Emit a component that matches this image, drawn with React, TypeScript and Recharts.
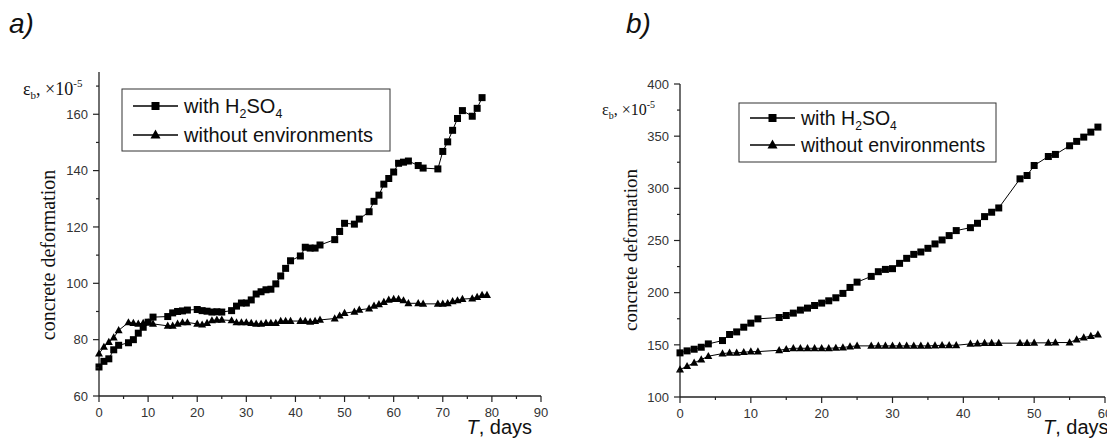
import React from 'react';
import { LineChart, Line, XAxis, YAxis } from 'recharts';

// Panel a) – days and deformation values (x10^-5)
const daysA = [0, 1, 2, 3, 4, 6, 7, 8, 9, 10, 11, 14, 15, 16, 17, 18, 20, 21, 22, 23, 24, 25, 27, 28, 29, 30, 31, 32, 33, 34, 35, 36, 37, 38, 39, 41, 42, 43, 44, 45, 48, 49, 50, 52, 53, 55, 56, 57, 58, 59, 60, 61, 62, 63, 65, 66, 69, 70, 71, 72, 73, 74, 76, 77, 78, 79];
const acidA = [70.3, 72.3, 73.2, 76.4, 78, 78.9, 80, 82.3, 84.4, 86.2, 88, 88.2, 89.5, 90, 90.2, 90.5, 90.7, 90.3, 90.1, 89.8, 89.9, 89.8, 90.3, 91.9, 93, 93, 94.1, 96.2, 97, 97.7, 97.9, 99.8, 102.6, 105.3, 108, 109.7, 112.8, 112.5, 112.5, 113.6, 115.5, 118.4, 121.3, 121, 122.8, 125.4, 129.1, 131.3, 135.2, 137.2, 139.5, 142.6, 143, 143.4, 141.8, 140.9, 140.6, 146.8, 150.2, 154.3, 158.5, 161.3, 159.3, 162.1, 165.9];
const plainA = [75, 77.4, 79.1, 80.7, 83.3, 86.1, 85.9, 85.6, 85.9, 86.1, 85.6, 84.9, 84.9, 85.6, 86.1, 86.1, 85.6, 85.3, 85.9, 86.8, 87, 87, 86.8, 86.1, 86.1, 86.1, 85.9, 85.6, 85.6, 85.9, 85.9, 85.9, 86.6, 86.6, 86.6, 86.6, 86.6, 86.3, 86.6, 87, 87.5, 88.5, 89.4, 89.9, 90.6, 91, 92, 92.5, 93.3, 94.1, 94.4, 94.4, 93.9, 92.9, 92.9, 92.7, 92.7, 92.7, 92.9, 93.6, 93.9, 94.4, 94.6, 95.1, 95.8, 95.8];

// Panel b)
const daysB = [0, 1, 2, 3, 4, 6, 7, 8, 9, 10, 11, 14, 15, 16, 17, 18, 19, 20, 21, 22, 23, 24, 25, 27, 28, 29, 30, 31, 32, 33, 34, 35, 36, 37, 38, 39, 41, 42, 43, 44, 45, 48, 49, 50, 52, 53, 55, 56, 57, 58, 59];
const acidB = [142.3, 144.2, 145.8, 147.7, 150.9, 154.1, 159.9, 162.4, 166.9, 170.8, 174.9, 176.2, 178.1, 180.4, 183.3, 185.2, 187.7, 190, 192.2, 195.1, 199.3, 205, 210.1, 215.6, 220.1, 222.3, 223, 228.1, 232.9, 236.7, 239, 242.5, 246.7, 250.5, 254.7, 259.5, 262.3, 266.5, 272.9, 277.1, 281.2, 309.1, 312.3, 321.9, 330.5, 332.5, 340.8, 345, 349.1, 353.9, 358.7];
const plainB = [126.3, 129.5, 132.7, 135.9, 139.1, 141.6, 142.3, 142.3, 142.9, 143.5, 143.5, 144.8, 145.8, 146.7, 146.7, 146.7, 146.7, 146.7, 146.7, 147, 147.4, 148.4, 149, 149, 149, 149, 149, 149, 149, 149, 149, 149, 149.3, 149.6, 149.6, 149.6, 150.9, 151.2, 151.6, 151.6, 151.6, 151.6, 151.6, 151.9, 151.9, 152.2, 152.2, 155.1, 157, 158.3, 159.9];

const xTicksA = [0, 5, 10, 15, 20, 25, 30, 35, 40, 45, 50, 55, 60, 65, 70, 75, 80, 85, 90];
const yTicksA = [60, 70, 80, 90, 100, 110, 120, 130, 140, 150, 160, 170];
const xTicksB = [0, 5, 10, 15, 20, 25, 30, 35, 40, 45, 50, 55, 60];
const yTicksB = [100, 125, 150, 175, 200, 225, 250, 275, 300, 325, 350, 375, 400];

const tableA = daysA.map((d, i) => ({ day: d, acid: acidA[i], plain: plainA[i] }));
const tableB = daysB.map((d, i) => ({ day: d, acid: acidB[i], plain: plainB[i] }));

const SANS = '"Liberation Sans", Arial, sans-serif';
const SERIF = '"Liberation Serif", "Times New Roman", serif';
const AXIS = '#222';

const makeXTick = (isMajor: (v: number) => boolean) => (props: any) => {
  const { x, y, payload } = props;
  const major = isMajor(payload.value);
  return (
    <g>
      <line x1={x} y1={y} x2={x} y2={y + (major ? 6 : 3)} stroke={AXIS} strokeWidth={1.2} />
      {major && (
        <text x={x} y={y + 21} textAnchor="middle" fontSize={13} fill="#333" fontFamily={SANS}>
          {payload.value}
        </text>
      )}
    </g>
  );
};

const makeYTick = (isMajor: (v: number) => boolean) => (props: any) => {
  const { x, y, payload } = props;
  const major = isMajor(payload.value);
  return (
    <g>
      <line x1={x} y1={y} x2={x - (major ? 6 : 3)} y2={y} stroke={AXIS} strokeWidth={1.2} />
      {major && (
        <text x={x - 11} y={y} dy="0.36em" textAnchor="end" fontSize={13} fill="#333" fontFamily={SANS}>
          {payload.value}
        </text>
      )}
    </g>
  );
};

const squareDot = (size: number) => (props: any) => {
  const { cx, cy, index } = props;
  if (cx == null || cy == null || props.value == null) return <g key={index} />;
  return <rect key={index} x={cx - size / 2} y={cy - size / 2} width={size} height={size} fill="#000" />;
};

const triangleDot = (size: number) => (props: any) => {
  const { cx, cy, index } = props;
  if (cx == null || cy == null || props.value == null) return <g key={index} />;
  const h = size * 0.9;
  return (
    <polygon
      key={index}
      points={`${cx},${cy - h * 0.6} ${cx - size / 2},${cy + h * 0.4} ${cx + size / 2},${cy + h * 0.4}`}
      fill="#000"
    />
  );
};

const Legend = ({ x, y, w, h, row1, row2, fs }: any) => {
  const sx = x + 11;
  const ex = x + 56;
  const mx = (sx + ex) / 2;
  const tx = x + 62;
  return (
    <g>
      <rect x={x} y={y} width={w} height={h} fill="#fff" stroke="#333" strokeWidth={1} />
      <line x1={sx} y1={row1} x2={ex} y2={row1} stroke="#000" strokeWidth={1.3} />
      <rect x={mx - 4} y={row1 - 4} width={8} height={8} fill="#000" />
      <text x={tx} y={row1 + 7} fontSize={fs} fontFamily={SANS} fill="#111">
        with H<tspan fontSize={fs * 0.62} dy={5}>2</tspan>
        <tspan dy={-5}>SO</tspan>
        <tspan fontSize={fs * 0.62} dy={5}>4</tspan>
      </text>
      <line x1={sx} y1={row2} x2={ex} y2={row2} stroke="#000" strokeWidth={1.3} />
      <polygon points={`${mx},${row2 - 5.5} ${mx - 5},${row2 + 3.5} ${mx + 5},${row2 + 3.5}`} fill="#000" />
      <text x={tx} y={row2 + 7} fontSize={fs} fontFamily={SANS} fill="#111">
        without environments
      </text>
    </g>
  );
};

const Panel = ({ data, xDomain, xTicks, yDomain, yTicks, yMajor, margin, width }: any) => (
  <LineChart width={width} height={439} data={data} margin={margin}>
    <XAxis
      dataKey="day"
      type="number"
      domain={xDomain}
      ticks={xTicks}
      interval={0}
      height={30}
      tickSize={0}
      tickMargin={0}
      tickLine={false}
      axisLine={{ stroke: AXIS, strokeWidth: 1.3 }}
      tick={makeXTick((v) => v % 10 === 0)}
    />
    <YAxis
      type="number"
      domain={yDomain}
      ticks={yTicks}
      interval={0}
      width={40}
      tickSize={0}
      tickMargin={0}
      tickLine={false}
      axisLine={{ stroke: AXIS, strokeWidth: 1.3 }}
      tick={makeYTick(yMajor)}
      allowDataOverflow
    />
    <Line
      type="linear"
      dataKey="acid"
      stroke="#000"
      strokeWidth={1}
      dot={squareDot(7)}
      activeDot={false}
      isAnimationActive={false}
    />
    <Line
      type="linear"
      dataKey="plain"
      stroke="#000"
      strokeWidth={1}
      dot={triangleDot(8)}
      activeDot={false}
      isAnimationActive={false}
    />
  </LineChart>
);

export default function App() {
  return (
    <div
      style={{
        position: 'absolute',
        left: 0,
        top: 0,
        width: 1107,
        height: 439,
        overflow: 'hidden',
        background: '#fff',
      }}
    >
      <div style={{ position: 'absolute', left: 0, top: 0 }}>
        <Panel
          width={560}
          data={tableA}
          xDomain={[0, 90]}
          xTicks={xTicksA}
          yDomain={[60, 175]}
          yTicks={yTicksA}
          yMajor={(v: number) => (v - 60) % 20 === 0}
          margin={{ top: 72, right: 19, bottom: 13, left: 59 }}
        />
      </div>
      <div style={{ position: 'absolute', left: 560, top: 0 }}>
        <Panel
          width={547}
          data={tableB}
          xDomain={[0, 60]}
          xTicks={xTicksB}
          yDomain={[100, 400]}
          yTicks={yTicksB}
          yMajor={(v: number) => v % 50 === 0}
          margin={{ top: 84, right: 2, bottom: 12, left: 80 }}
        />
      </div>
      <svg
        width={1107}
        height={439}
        style={{ position: 'absolute', left: 0, top: 0, pointerEvents: 'none', overflow: 'visible' }}
      >
        <text x={9} y={33} fontSize={28} fontStyle="italic" fontFamily={SANS} fill="#111">a)</text>
        <text x={626} y={33} fontSize={28} fontStyle="italic" fontFamily={SANS} fill="#111">b)</text>

        <text transform="translate(55,255) rotate(-90)" textAnchor="middle" fontSize={20} fontFamily={SERIF} fill="#111">
          concrete deformation
        </text>
        <text transform="translate(637,250) rotate(-90)" textAnchor="middle" fontSize={19} fontFamily={SERIF} fill="#111">
          concrete deformation
        </text>

        <text x={23} y={95} fontSize={18} fontFamily={SERIF} fill="#111">
          ε<tspan fontSize={11} dy={4}>b</tspan>
          <tspan dy={-4}>, ×10</tspan>
          <tspan fontSize={11} dy={-8}>-5</tspan>
        </text>
        <text x={602} y={115} fontSize={16} fontFamily={SERIF} fill="#111">
          ε<tspan fontSize={10} dy={4}>b</tspan>
          <tspan dy={-4}>, ×10</tspan>
          <tspan fontSize={10} dy={-7}>-5</tspan>
        </text>

        <text x={532} y={434} textAnchor="end" fontSize={20} fontFamily={SANS} fill="#111">
          <tspan fontStyle="italic">T</tspan>, days
        </text>
        <text x={1043} y={434} fontSize={20} fontFamily={SANS} fill="#111">
          <tspan fontStyle="italic">T</tspan>, days
        </text>

        <Legend x={122} y={89} w={268} h={62} row1={106} row2={135} fs={20} />
        <Legend x={739} y={103} w={257} h={59} row1={118} row2={145} fs={19.5} />
      </svg>
    </div>
  );
}
